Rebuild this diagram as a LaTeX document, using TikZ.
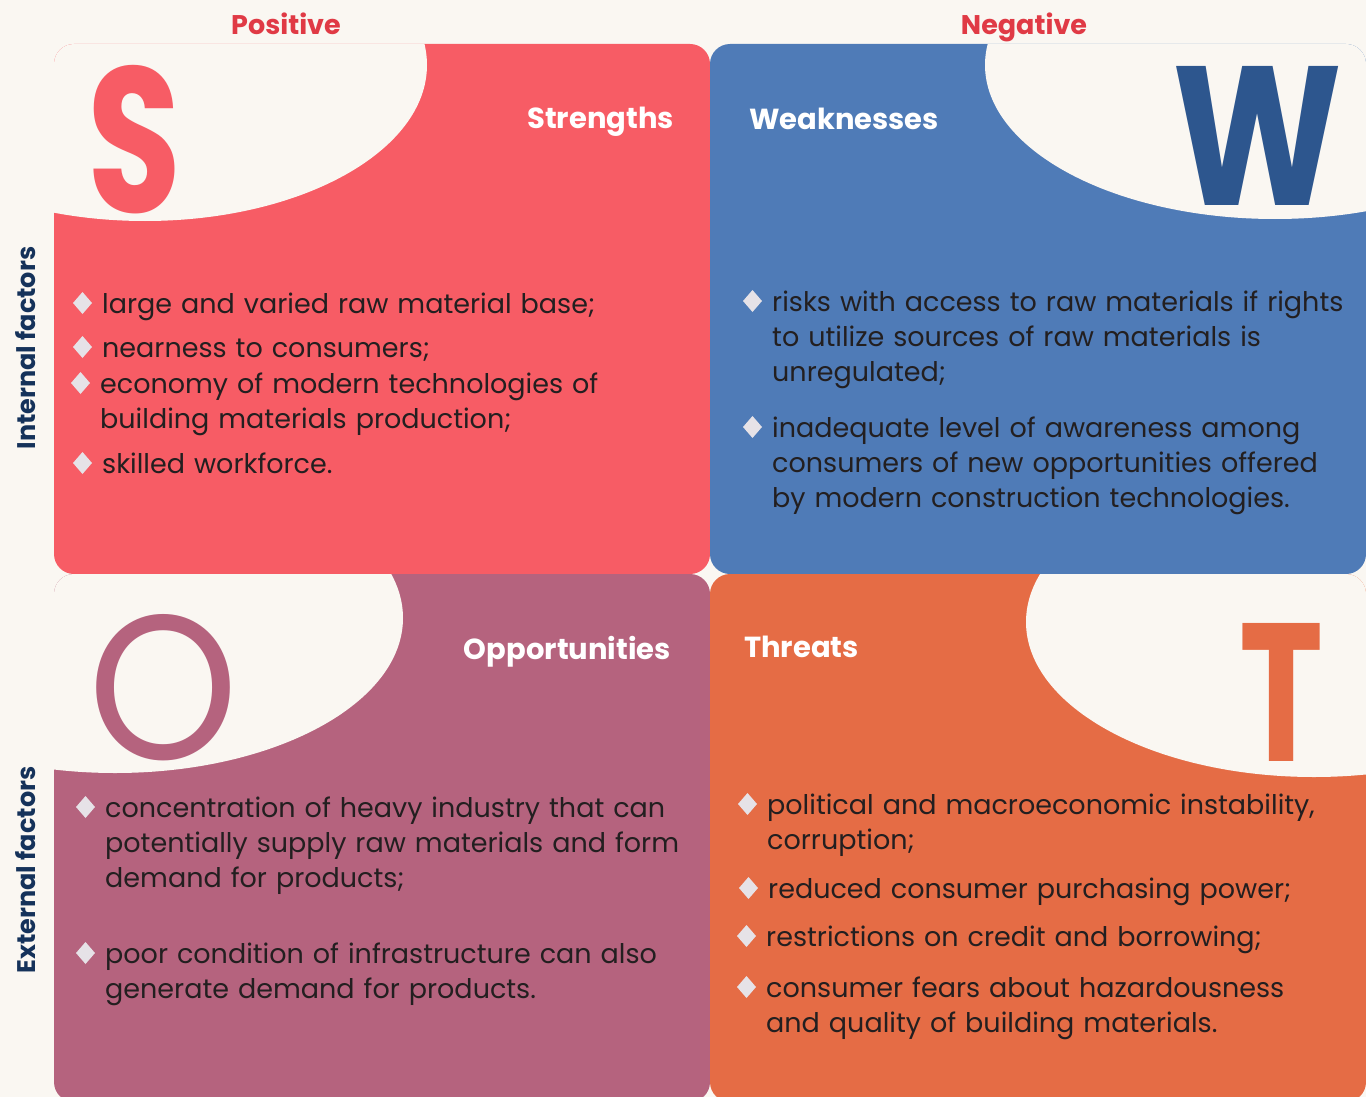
\documentclass[tikz,border=0pt]{standalone}
\usepackage{fontspec}
\usepackage{graphicx}
\setmainfont{Poppins}
\usetikzlibrary{positioning,shapes.geometric}

\definecolor{paper}{HTML}{FAF7F2}
\definecolor{sred}{HTML}{F75C65}
\definecolor{wblue}{HTML}{4F7BB7}
\definecolor{wdark}{HTML}{2D568E}
\definecolor{omauve}{HTML}{B5637E}
\definecolor{torange}{HTML}{E56C45}
\definecolor{signred}{HTML}{E03A45}
\definecolor{navy}{HTML}{15325A}
\definecolor{ink}{HTML}{231F20}
\definecolor{bulgray}{HTML}{E6E2E7}

\tikzset{
  box/.style={rounded corners=20pt},
  bul/.style={diamond, fill=bulgray, inner sep=0pt, outer sep=0pt,
    minimum width=19pt, minimum height=22pt},
  itm/.style={anchor=base west, inner sep=0pt, text width=600pt, align=left,
    text=ink, font=\fontsize{27}{35}\selectfont},
  head/.style={text=white, inner sep=0pt, font=\bfseries\fontsize{29}{30}\selectfont},
  sign/.style={text=signred, anchor=base, inner sep=0pt, font=\bfseries\fontsize{27}{30}\selectfont},
  side/.style={text=navy, rotate=90, inner sep=0pt, font=\bfseries\fontsize{25.5}{26}\selectfont},
  big/.style={anchor=south, inner sep=0pt},
}

\begin{document}
\begin{tikzpicture}[x=1pt,y=-1pt]
\fill[paper] (0,0) rectangle (1366,1097);
\useasboundingbox (0,0) rectangle (1366,1097);

% four quadrants, each with a bite taken out of one corner
\begin{scope}
\fill[sred, box] (54,44) rectangle (710,574);
\clip[box] (54,44) rectangle (710,574);
\fill[paper] (145,65) ellipse [x radius=282, y radius=156];
\end{scope}
\begin{scope}
\fill[wblue, box] (710,44) rectangle (1366,574);
\clip[box] (710,44) rectangle (1366,574);
\fill[paper] (1275,65) ellipse [x radius=290, y radius=154];
\end{scope}
\begin{scope}
\fill[omauve, box] (54,574) rectangle (710,1102);
\clip[box] (54,574) rectangle (710,1102);
\fill[paper] (115,618) ellipse [x radius=288, y radius=155];
\end{scope}
\begin{scope}
\fill[torange, box] (710,574) rectangle (1366,1102);
\clip[box] (710,574) rectangle (1366,1102);
\fill[paper] (1314,622) ellipse [x radius=288, y radius=155];
\end{scope}

% big letters
\node[big, text=sred] (bigS) at (135,214) {\resizebox{94pt}{147pt}{\bfseries S}};
\node[big, text=wdark] (bigW) at (1258,206) {\resizebox{170pt}{139pt}{\bfseries W}};
\node[big, text=omauve] (bigO) at (164,761) {\resizebox{150pt}{145pt}{O}};
\node[big, text=torange] (bigT) at (1282,762) {\resizebox{84pt}{138pt}{\bfseries T}};

% titles
\node[head, anchor=base east] (strengths) at (674,129) {Strengths};
\node[head, anchor=base west] (weaknesses) at (749,130) {Weaknesses};
\node[head, anchor=base east] (opportunities) at (671,659) {Opportunities};
\node[head, anchor=base west] (threats) at (744,657) {Threats};

\node[sign] (positive) at (286,35) {Positive};
\node[sign] (negative) at (1024,35) {Negative};
\node[side] (internal) at (26,348) {Internal factors};
\node[side] (external) at (26,870) {External factors};

% bullet lists
\foreach \x/\y/\txt [count=\i] in {
  102/313/{large and varied raw material base;},
  102/357/{nearness to consumers;},
  100/393/{economy of modern technologies of\\building materials production;},
  102/473/{skilled workforce.},
  772/311/{risks with access to raw materials if rights\\to utilize sources of raw materials is\\unregulated;},
  772/437/{inadequate level of awareness among\\consumers of new opportunities offered\\by modern construction technologies.},
  105/817/{concentration of heavy industry that can\\potentially supply raw materials and form\\demand for products;},
  105/963/{poor condition of infrastructure can also\\generate demand for products.},
  767/814/{political and macroeconomic instability,\\corruption;},
  768/898/{reduced consumer purchasing power;},
  766/946/{restrictions on credit and borrowing;},
  766/997/{consumer fears about hazardousness\\and quality of building materials.}}
{
  \node[itm] (it\i) at (\x,\y) {\txt};
  \node[bul, left=10pt of it\i.base west, yshift=10pt] (bu\i) {};
}
\end{tikzpicture}
\end{document}
